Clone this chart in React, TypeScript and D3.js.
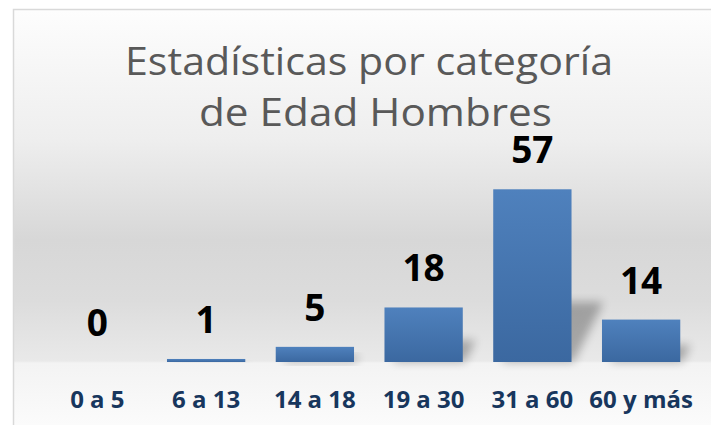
import React from "react";
import * as d3 from "d3";

const categories = ["0 a 5", "6 a 13", "14 a 18", "19 a 30", "31 a 60", "60 y más"];
const values = [0, 1, 5, 18, 57, 14];
const titleLines = ["Estadísticas por categoría", "de Edad Hombres"];

const W = 711;
const H = 425;

export default function App() {
  const x = d3.scaleBand<string>().domain(categories).range([43, 695.5]).paddingInner(0.28).paddingOuter(0.14);
  const y = d3.scaleLinear().domain([0, 60]).range([362, 362 - 60 * 3.03]);
  const bw = x.bandwidth();
  const yb = y(0);

  return (
    <svg width={W} height={H} style={{ position: "absolute", left: 0, top: 0 }}>
      <defs>
        <linearGradient id="bg" x1="0" y1="0" x2="0" y2={H} gradientUnits="userSpaceOnUse">
          <stop offset={10 / H} stopColor="#fdfdfd" />
          <stop offset={140 / H} stopColor="#eeeeee" />
          <stop offset={240 / H} stopColor="#d7d7d7" />
          <stop offset={300 / H} stopColor="#dcdcdc" />
          <stop offset={361 / H} stopColor="#e9e9e9" />
          <stop offset={363 / H} stopColor="#f3f3f3" />
          <stop offset={1} stopColor="#fbfbfb" />
        </linearGradient>
        <linearGradient id="bar" x1="0" y1="0" x2="0" y2="1">
          <stop offset="0" stopColor="#4f81bd" />
          <stop offset="1" stopColor="#3b68a0" />
        </linearGradient>
        <filter id="blur" x="-50%" y="-50%" width="200%" height="200%">
          <feGaussianBlur stdDeviation="5" />
        </filter>
      </defs>
      <rect x={0} y={0} width={W} height={H} fill="#ffffff" />
      <rect x={13.5} y={9.5} width={702} height={422} fill="url(#bg)" stroke="#d9d9d9" strokeWidth={1.5} />

      <g fill="#595959" fontFamily="'Open Sans', sans-serif" fontSize={39}>
        <text x={125} y={75} textLength={488} lengthAdjust="spacingAndGlyphs">{titleLines[0]}</text>
        <text x={199} y={126} textLength={353} lengthAdjust="spacingAndGlyphs">{titleLines[1]}</text>
      </g>

      <g>
        {categories.map((c, i) => {
          const h = yb - y(values[i]);
          if (h <= 0) return null;
          const x0 = x(c)! + 8;
          const x1 = x(c)! + bw + 2;
          const dx = Math.min(0.2 * h, 30);
          const dy = Math.min(0.4 * h, 60);
          const pts = [
            [x0, yb],
            [x1, yb],
            [x1 + dx, yb - dy],
            [x0 + dx, yb - dy],
          ];
          return (
            <polygon key={"s" + c} points={pts.map((p) => p.join(",")).join(" ")} fill="#000" opacity={0.28} filter="url(#blur)" />
          );
        })}
      </g>

      <g>
        {categories.map((c, i) => (
          <rect key={c} x={x(c)} y={y(values[i])} width={bw} height={yb - y(values[i])} fill="url(#bar)" />
        ))}
      </g>

      <g fontFamily="'Open Sans', sans-serif" fontWeight="bold" fontSize={37} fill="#000" textAnchor="middle">
        {categories.map((c, i) => (
          <text key={c} x={x(c)! + bw / 2} y={y(values[i]) - 26}>{values[i]}</text>
        ))}
      </g>

      <g fontFamily="'Open Sans', sans-serif" fontWeight="bold" fontSize={24} fill="#17365d" textAnchor="middle">
        {categories.map((c) => (
          <text key={c} x={x(c)! + bw / 2} y={408}>{c}</text>
        ))}
      </g>
    </svg>
  );
}
